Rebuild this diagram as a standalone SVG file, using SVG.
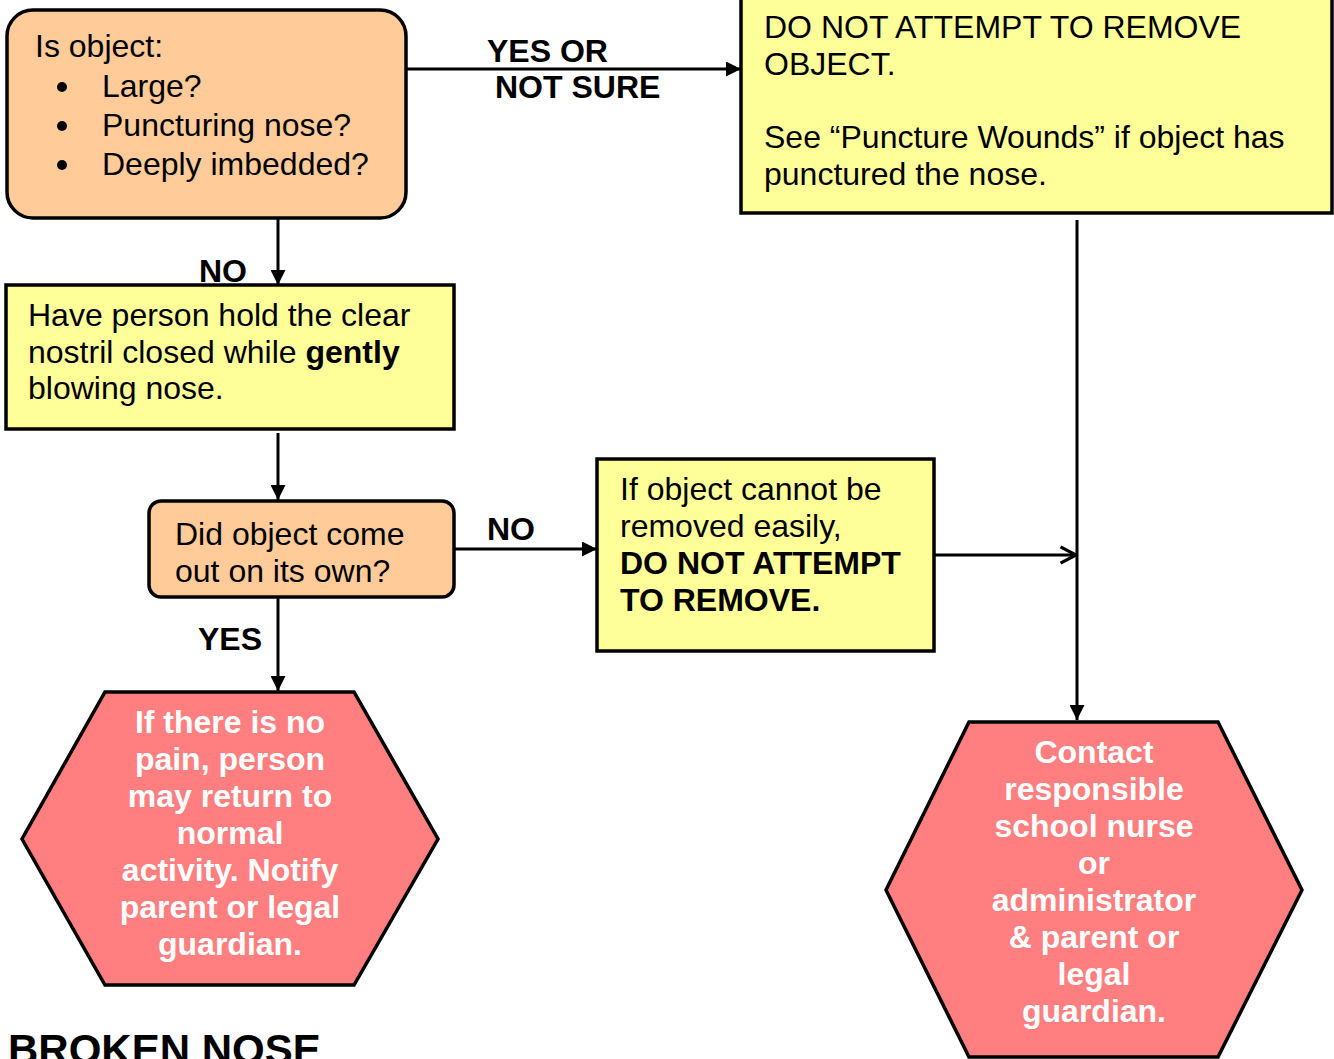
<svg xmlns="http://www.w3.org/2000/svg" width="1334" height="1059" viewBox="0 0 1334 1059">
<defs>
<marker id="arr" viewBox="0 0 10 10" refX="10" refY="5" markerWidth="5" markerHeight="5" markerUnits="strokeWidth" orient="auto">
<path d="M0,0 L10,5 L0,10 z" fill="#000"/>
</marker>
<marker id="open" viewBox="0 0 12 12" refX="11" refY="6" markerWidth="6.5" markerHeight="6.5" markerUnits="strokeWidth" orient="auto">
<path d="M1.5,1 L11,6 L1.5,11" fill="none" stroke="#000" stroke-width="2"/>
</marker>
</defs>
<style>
.t{font-family:"Liberation Sans",Arial,sans-serif;font-size:32px;fill:#000}
.b{font-weight:bold}
.w{font-family:"Liberation Sans",Arial,sans-serif;font-size:32px;font-weight:bold;fill:#fff;text-anchor:middle}
.orange{fill:#FFCC99;stroke:#000;stroke-width:3.5}
.yellow{fill:#FFFF99;stroke:#000;stroke-width:3.5}
.hex{fill:#FF7F80;stroke:#000;stroke-width:3.5}
.c{stroke:#000;stroke-width:3;fill:none}
</style>
<rect width="1334" height="1059" fill="#fff"/>
<g id="connectors">
<line class="c" x1="406" y1="69" x2="741" y2="69" marker-end="url(#arr)"/>
<line class="c" x1="278" y1="218" x2="278" y2="285" marker-end="url(#arr)"/>
<line class="c" x1="278" y1="433" x2="278" y2="500" marker-end="url(#arr)"/>
<line class="c" x1="454" y1="549" x2="597" y2="549" marker-end="url(#arr)"/>
<line class="c" x1="278" y1="597" x2="278" y2="691" marker-end="url(#arr)"/>
<line class="c" x1="934" y1="555" x2="1076" y2="555" marker-end="url(#open)"/>
<line class="c" x1="1077" y1="220" x2="1077" y2="720" marker-end="url(#arr)"/>
<text class="t b" x="487" y="62">YES OR</text>
<text class="t b" x="495" y="98">NOT SURE</text>
<text class="t b" x="199" y="282">NO</text>
<text class="t b" x="487" y="540">NO</text>
<text class="t b" x="198" y="650">YES</text>
</g>
<g id="n1">
<rect class="orange" x="7" y="10" width="399" height="208" rx="26"/>
<text class="t" x="35" y="57">Is object:</text>
<circle cx="62" cy="87" r="5"/>
<circle cx="62" cy="126" r="5"/>
<circle cx="62" cy="165" r="5"/>
<text class="t" x="102" y="97">Large?</text>
<text class="t" x="102" y="136">Puncturing nose?</text>
<text class="t" x="102" y="175">Deeply imbedded?</text>
</g>
<g id="n2">
<rect class="yellow" x="741" y="-4" width="591" height="217"/>
<text class="t" x="764" y="38">DO NOT ATTEMPT TO REMOVE</text>
<text class="t" x="764" y="75">OBJECT.</text>
<text class="t" x="764" y="148">See “Puncture Wounds” if object has</text>
<text class="t" x="764" y="185">punctured the nose.</text>
</g>
<g id="n3">
<rect class="yellow" x="6" y="285" width="448" height="144"/>
<text class="t" x="28" y="326">Have person hold the clear</text>
<text class="t" x="28" y="363">nostril closed while <tspan class="b">gently</tspan></text>
<text class="t" x="28" y="399">blowing nose.</text>
</g>
<g id="n4">
<rect class="orange" x="149" y="501" width="305" height="96" rx="12"/>
<text class="t" x="175" y="545">Did object come</text>
<text class="t" x="175" y="582">out on its own?</text>
</g>
<g id="n5">
<rect class="yellow" x="597" y="459" width="337" height="192"/>
<text class="t" x="620" y="500">If object cannot be</text>
<text class="t" x="620" y="537">removed easily,</text>
<text class="t b" x="620" y="574">DO NOT ATTEMPT</text>
<text class="t b" x="620" y="611">TO REMOVE.</text>
</g>
<g id="n6">
<polygon class="hex" points="105,692 354,692 438,839 354,985 105,985 22,839"/>
<text class="w" x="230" y="733">If there is no</text>
<text class="w" x="230" y="770">pain, person</text>
<text class="w" x="230" y="807">may return to</text>
<text class="w" x="230" y="844">normal</text>
<text class="w" x="230" y="881">activity. Notify</text>
<text class="w" x="230" y="918">parent or legal</text>
<text class="w" x="230" y="955">guardian.</text>
</g>
<g id="n7">
<polygon class="hex" points="969,722 1218,722 1302,890 1218,1057 969,1057 886,890"/>
<text class="w" x="1094" y="763">Contact</text>
<text class="w" x="1094" y="800">responsible</text>
<text class="w" x="1094" y="837">school nurse</text>
<text class="w" x="1094" y="874">or</text>
<text class="w" x="1094" y="911">administrator</text>
<text class="w" x="1094" y="948">&amp; parent or</text>
<text class="w" x="1094" y="985">legal</text>
<text class="w" x="1094" y="1022">guardian.</text>
</g>
<text class="t b" x="8" y="1064" style="font-size:42px">BROKEN NOSE</text>
</svg>
